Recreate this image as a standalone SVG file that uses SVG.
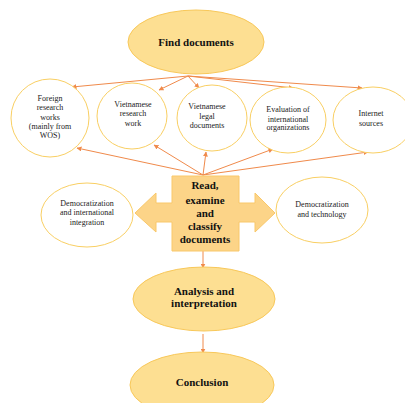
<svg xmlns="http://www.w3.org/2000/svg" width="405" height="403" viewBox="0 0 405 403">
<style>
.big{fill:#FDDF92;stroke:#F8C85A;stroke-width:1}
.circ{fill:#fff;stroke:#F9CF63;stroke-width:1}
.bt{font-family:"Liberation Serif",serif;font-weight:bold;font-size:11px;fill:#111;text-anchor:middle}
.st{font-family:"Liberation Serif",serif;font-size:8px;fill:#222;text-anchor:middle}
.con{stroke:#F08A4B;stroke-width:1;fill:none;marker-end:url(#ah)}
</style>
<defs>
<marker id="ah" viewBox="0 0 10 10" refX="9" refY="5" markerWidth="5" markerHeight="5" orient="auto" markerUnits="userSpaceOnUse">
<path d="M0,0 L10,5 L0,10 z" fill="#F08A4B"/>
</marker>
</defs>
<rect width="405" height="403" fill="#fff"/>
<g id="connectors">
<line class="con" x1="188" y1="76" x2="72" y2="87"/>
<line class="con" x1="188" y1="76" x2="159" y2="90"/>
<line class="con" x1="188" y1="76" x2="199" y2="88"/>
<line class="con" x1="188" y1="76" x2="293" y2="88"/>
<line class="con" x1="188" y1="76" x2="362" y2="88"/>
<line class="con" x1="203" y1="175" x2="77" y2="148"/>
<line class="con" x1="203" y1="175" x2="154" y2="145"/>
<line class="con" x1="203" y1="175" x2="206" y2="152"/>
<line class="con" x1="203" y1="175" x2="273" y2="149"/>
<line class="con" x1="203" y1="175" x2="368" y2="152"/>
<line class="con" x1="203" y1="251" x2="203" y2="268"/>
<line class="con" x1="203" y1="334" x2="203" y2="353"/>
</g>
<g id="find">
<ellipse class="big" cx="196" cy="42" rx="68" ry="32"/>
<text class="bt" x="196" y="46">Find documents</text>
</g>
<g id="foreign">
<circle class="circ" cx="50" cy="118" r="39"/>
<text class="st" x="50" y="101">Foreign</text>
<text class="st" x="50" y="110">research</text>
<text class="st" x="50" y="120">works</text>
<text class="st" x="50" y="129">(mainly from</text>
<text class="st" x="50" y="138">WOS)</text>
</g>
<g id="vrw">
<ellipse class="circ" cx="132" cy="116" rx="35" ry="33"/>
<text class="st" x="133" y="107">Vietnamese</text>
<text class="st" x="133" y="116">research</text>
<text class="st" x="133" y="126">work</text>
</g>
<g id="vld">
<ellipse class="circ" cx="212" cy="118" rx="35" ry="33"/>
<text class="st" x="207" y="109">Vietnamese</text>
<text class="st" x="207" y="119">legal</text>
<text class="st" x="207" y="128">documents</text>
</g>
<g id="eval">
<ellipse class="circ" cx="288" cy="120" rx="38" ry="33"/>
<text class="st" x="288" y="112">Evaluation of</text>
<text class="st" x="288" y="122">international</text>
<text class="st" x="288" y="130">organizations</text>
</g>
<g id="internet">
<ellipse class="circ" cx="373" cy="120" rx="40" ry="33"/>
<text class="st" x="371" y="116">Internet</text>
<text class="st" x="371" y="126">sources</text>
</g>
<g id="read">
<polygon points="172,176 239,176 239,203 255,203 255,193 275,213 255,232 255,222 239,222 239,251 172,251 172,222 156,222 156,232 135,213 156,193 156,203 172,203" fill="#FCD488" stroke="#F9C86A" stroke-width="1"/>
<text class="bt" x="205" y="189">Read,</text>
<text class="bt" x="205" y="204">examine</text>
<text class="bt" x="205" y="217">and</text>
<text class="bt" x="205" y="230">classify</text>
<text class="bt" x="205" y="243">documents</text>
</g>
<g id="demint">
<ellipse class="circ" cx="87" cy="215" rx="46" ry="32"/>
<text class="st" x="87" y="206">Democratization</text>
<text class="st" x="87" y="215">and international</text>
<text class="st" x="87" y="225">integration</text>
</g>
<g id="demtech">
<ellipse class="circ" cx="322" cy="210" rx="46" ry="33"/>
<text class="st" x="322" y="207">Democratization</text>
<text class="st" x="322" y="217">and technology</text>
</g>
<g id="analysis">
<ellipse class="big" cx="204" cy="299" rx="71" ry="32"/>
<text class="bt" x="204" y="295">Analysis and</text>
<text class="bt" x="204" y="307">interpretation</text>
</g>
<g id="conclusion">
<ellipse class="big" cx="202" cy="385" rx="72" ry="33"/>
<text class="bt" x="202" y="386">Conclusion</text>
</g>
</svg>
